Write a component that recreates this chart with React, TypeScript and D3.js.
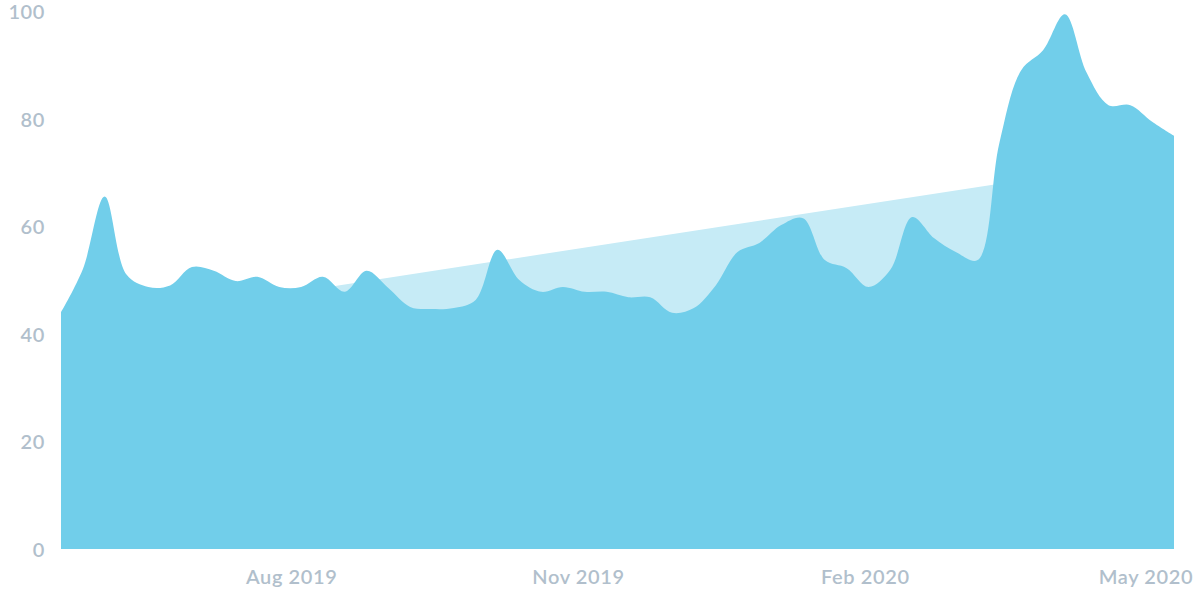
import React from "react";
import * as d3 from "d3";

const startDate = "2019-05-19";
const weeks = 52;
const mainValues = [
  44, 52, 65.5, 51, 48.7, 49, 52.4, 51.7, 49.8, 50.6,
  48.7, 48.7, 50.6, 47.8, 51.7, 48.5, 45, 44.6, 44.8, 46.3,
  55.6, 50, 47.8, 48.7, 47.8, 47.8, 46.8, 46.8, 43.9, 44.8,
  49, 55.2, 56.9, 60.2, 61.5, 53.7, 52.2, 48.7, 51.9, 61.7,
  57.8, 55.2, 53.7, 75.5, 89, 92.7, 99.4, 88.5, 82.5, 82.5,
  79.4, 76.8,
];
const trendDates = ["2019-08-04", "2020-03-15"];
const trendValues = [47.9, 67.9];
const yTicks = [0, 20, 40, 60, 80, 100];
const xTickDates = ["2019-08-01", "2019-11-01", "2020-02-01", "2020-05-01"];

const parse = d3.utcParse("%Y-%m-%d");

export default function App() {
  const W = 1200, H = 600;
  const left = 61, right = 1174, top = 11, bottom = 549;
  const start = parse(startDate)!;
  const mainData = mainValues.map((v, i) => ({ date: d3.utcDay.offset(start, i * 7), value: v }));
  const trendData = trendDates.map((d, i) => ({ date: parse(d)!, value: trendValues[i] }));
  const x = d3.scaleUtc()
    .domain([start, d3.utcDay.offset(start, (weeks - 1) * 7)])
    .range([left, right]);
  const y = d3.scaleLinear().domain([0, 100]).range([bottom, top]);
  const area = d3.area<{ date: Date; value: number }>()
    .x(d => x(d.date))
    .y0(y(0))
    .y1(d => y(d.value))
    .curve(d3.curveCatmullRom.alpha(0.5));
  const fmt = d3.utcFormat("%b %Y");
  const textColor = "#b1bfcc";
  const font = "Lato, 'Open Sans', sans-serif";
  return (
    <svg width={W} height={H} style={{ position: "absolute", left: 0, top: 0 }}>
      <path d={area(trendData) || ""} fill="#c6ebf6" />
      <path d={area(mainData) || ""} fill="#71ceea" />
      {yTicks.map(t => (
        <text key={t} x={45} y={y(t)} textAnchor="end" dominantBaseline="central"
          fill={textColor} fontFamily={font} fontSize={20} fontWeight={600} letterSpacing={0.6}>{t}</text>
      ))}
      {xTickDates.map(d => {
        const dt = parse(d)!;
        return (
          <text key={d} x={x(dt)} y={576} textAnchor="middle" dominantBaseline="central"
            fill={textColor} fontFamily={font} fontSize={20} fontWeight={600} letterSpacing={0.6}>{fmt(dt)}</text>
        );
      })}
    </svg>
  );
}
